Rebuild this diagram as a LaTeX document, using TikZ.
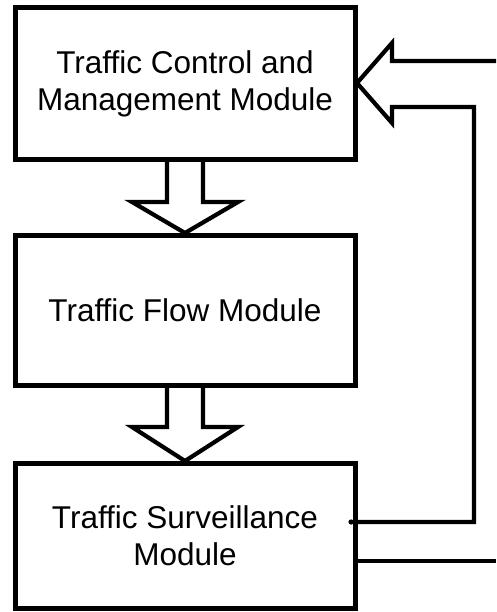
\documentclass[tikz,border=0pt]{standalone}
\usepackage{fontspec}
\setmainfont{Liberation Sans}
\usetikzlibrary{calc}
\tikzset{
  modbox/.style={draw, line width=5pt, rectangle, minimum width=340pt, inner sep=0pt, outer sep=0pt, align=center, font=\fontsize{31.5}{37}\selectfont},
  arrowline/.style={draw, line width=4.2pt, line join=miter},
}
\begin{document}
\begin{tikzpicture}[x=1pt,y=-1pt]
\useasboundingbox (0,0) rectangle (496,612);
\node[modbox, minimum height=152pt] (b1) at (185,84) {Traffic Control and\\Management Module};
\node[modbox, minimum height=150pt] (b2) at (185,310) {Traffic Flow Module};
\node[modbox, minimum height=145pt] (b3) at (185,535.5) {Traffic Surveillance\\Module};
% down arrows
\draw[arrowline] ($(b1.south)+(-18,0)$) -- ++(0,42) -- ++(-35,0) -- ($(b2.north)+(0,-2)$) -- ($(b1.south)+(53,42)$) -- ++(-35,0) -- ($(b1.south)+(18,0)$);
\draw[arrowline] ($(b2.south)+(-18,0)$) -- ++(0,42) -- ++(-35,0) -- ($(b3.north)+(0,-2)$) -- ($(b2.south)+(53,42)$) -- ++(-35,0) -- ($(b2.south)+(18,0)$);
% feedback arrow
\coordinate (inTop) at (496,61);
\coordinate (fbStart) at ($(b3.east)+(-4,-13.5)$);
\coordinate (outLow) at (496,561);
\draw[arrowline] (inTop) -- (392,61) -- (392,43) -- ($(b1.east)+(2,-1)$) -- (392,123) -- (392,107) -- (474,107) -- (474,522) -- (fbStart);
\fill (fbStart) circle (2.6pt);
\draw[arrowline] (b3.east |- outLow) -- (outLow);
\end{tikzpicture}
\end{document}
